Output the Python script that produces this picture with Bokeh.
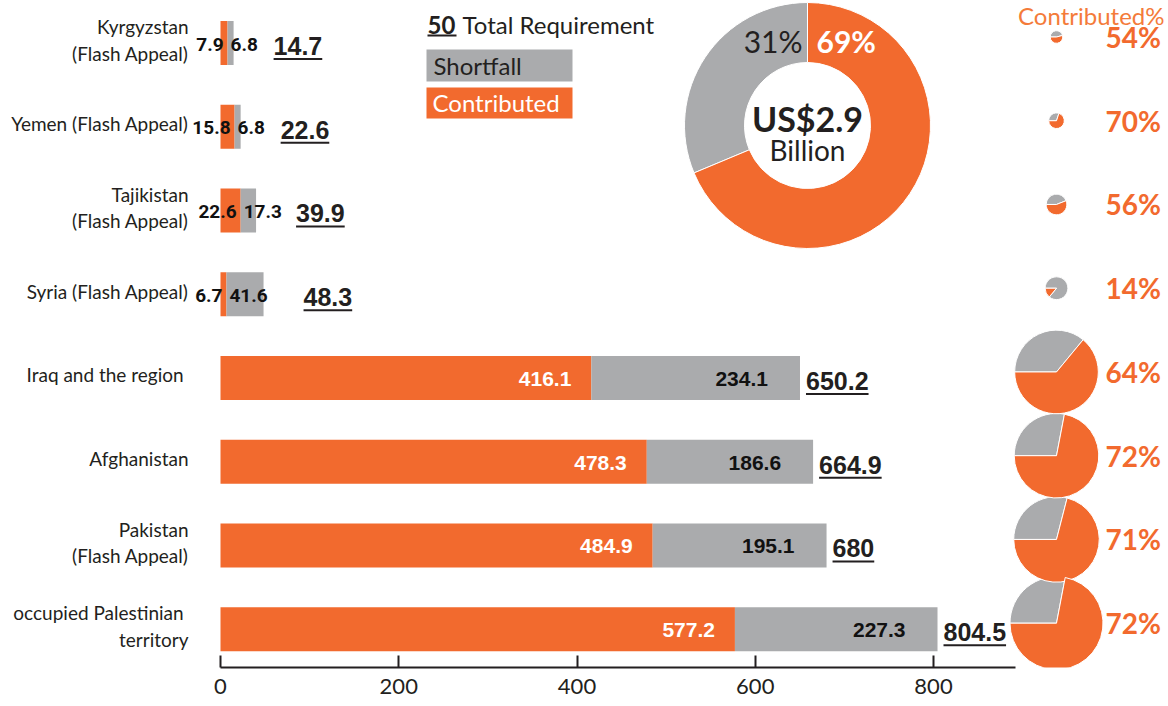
import math
from bokeh.plotting import figure
from bokeh.models import Range1d, FixedTicker
from bokeh.core.properties import value
from bokeh.embed import file_html
from bokeh.resources import INLINE

# ---------------- data ----------------
categories = [
    "Kyrgyzstan\n(Flash Appeal)",
    "Yemen (Flash Appeal)",
    "Tajikistan\n(Flash Appeal)",
    "Syria (Flash Appeal)",
    "Iraq  and the region",
    "Afghanistan",
    "Pakistan\n(Flash Appeal)",
    "occupied  Palestinian\nterritory",
]
contributed = [7.9, 15.8, 22.6, 6.7, 416.1, 478.3, 484.9, 577.2]
shortfall = [6.8, 6.8, 17.3, 41.6, 234.1, 186.6, 195.1, 227.3]
total_labels = ["14.7", "22.6", "39.9", "48.3", "650.2", "664.9", "680", "804.5"]
contributed_pct = [54, 70, 56, 14, 64, 72, 71, 72]
x_ticks = [0, 200, 400, 600, 800]
legend_example = "50"

# ---------------- style / layout ----------------
ORANGE = "#f26a2e"
GRAY = "#aaabad"
DARK = "#231f20"
HEAD_ORANGE = "#f47b3a"
W, H = 1168, 706
BOTTOM = 39
X0_PX = 220.0          # page x of value 0
PPU = 0.89125          # pixels per unit
ROW0_PX = 42.5         # page y of first row centre
ROW_PX = 83.74         # row spacing in px


def dx(px):
    return (px - X0_PX) / PPU


def dy(py):
    return (py - ROW0_PX) / ROW_PX


totals = [c + s for c, s in zip(contributed, shortfall)]
ys = list(range(len(categories)))
big = [t > 100 for t in totals]

p = figure(width=W, height=H,
           x_range=Range1d(dx(0), dx(W)),
           y_range=Range1d(dy(H - BOTTOM), dy(0)),
           output_backend="svg", toolbar_location=None,
           y_axis_location=None,
           min_border_left=0, min_border_right=0,
           min_border_top=0, min_border_bottom=BOTTOM)
p.grid.visible = False
p.outline_line_color = None
p.background_fill_color = "white"

ax = p.xaxis[0]
ax.ticker = FixedTicker(ticks=x_ticks)
ax.bounds = (0, dx(1015))
ax.axis_line_width = 2
ax.axis_line_color = DARK
ax.major_tick_in = 12
ax.major_tick_out = 0
ax.major_tick_line_width = 2
ax.major_tick_line_color = DARK
ax.minor_tick_line_color = None
ax.major_label_text_font = "Lato"
ax.major_label_text_font_size = "22px"
ax.major_label_text_color = DARK
ax.major_label_standoff = 11

# ---------------- bars ----------------
BAR_H = 44 / ROW_PX
p.hbar(y=ys, left=0, right=contributed, height=BAR_H,
       fill_color=ORANGE, line_color=None)
p.hbar(y=ys, left=contributed, right=totals, height=BAR_H,
       fill_color=GRAY, line_color=None)

# category labels
p.text(x=0, y=ys, text=categories, x_offset=-32, y_offset=-3,
       text_align="right", text_baseline="middle",
       text_font=value("Lato"), text_font_size="19px",
       text_color=DARK, text_line_height=1.15)

# value labels inside bars
by = [y for y, b in zip(ys, big) if b]
sy_ = [y for y, b in zip(ys, big) if not b]
p.text(x=[c for c, b in zip(contributed, big) if b], y=by,
       text=[f"{c:.1f}" for c, b in zip(contributed, big) if b],
       x_offset=-20, y_offset=1, text_align="right", text_baseline="middle",
       text_font=value("Liberation Sans"), text_font_style="bold",
       text_font_size="21px", text_color="white")
p.text(x=[t for t, b in zip(totals, big) if b], y=by,
       text=[f"{s:.1f}" for s, b in zip(shortfall, big) if b],
       x_offset=-32, y_offset=1, text_align="right", text_baseline="middle",
       text_font=value("Liberation Sans"), text_font_style="bold",
       text_font_size="21px", text_color="#111111")
p.text(x=[c for c, b in zip(contributed, big) if not b], y=sy_,
       text=[f"{c:.1f}" for c, b in zip(contributed, big) if not b],
       x_offset=-4, y_offset=1, text_align="right", text_baseline="middle",
       text_font=value("Roboto"), text_font_style="bold",
       text_font_size="19px", text_color="#111111")
p.text(x=[c for c, b in zip(contributed, big) if not b], y=sy_,
       text=[f"{s:.1f}" for s, b in zip(shortfall, big) if not b],
       x_offset=3, y_offset=1, text_align="left", text_baseline="middle",
       text_font=value("Roboto"), text_font_style="bold",
       text_font_size="19px", text_color="#111111")

# total labels (underlined)
TOT_FS = 25
def text_w(s):
    return sum((0.278 if ch == "." else 0.556) * TOT_FS for ch in s)

tot_off = [6 if b else 40 for b in big]
p.text(x=totals, y=ys, text=total_labels, x_offset=tot_off, y_offset=3,
       text_align="left", text_baseline="middle",
       text_font=value("Liberation Sans"), text_font_style="bold",
       text_font_size=f"{TOT_FS}px", text_color=DARK)
ux0 = [t + o / PPU for t, o in zip(totals, tot_off)]
ux1 = [x + text_w(s) / PPU for x, s in zip(ux0, total_labels)]
uy = [y + 16 / ROW_PX for y in ys]
p.segment(x0=ux0, x1=ux1, y0=uy, y1=uy, line_color=DARK, line_width=2)

# ---------------- pies ----------------
pie_x = dx(1056)
pie_y = [y - 6 / ROW_PX for y in ys]
pie_r = [1.64 * math.sqrt(t) for t in totals]
start = [math.pi] * len(ys)
mid = [math.pi + 2 * math.pi * q / 100 for q in contributed_pct]
end = [3 * math.pi] * len(ys)
p.wedge(x=pie_x, y=pie_y, radius=pie_r, radius_units="screen",
        start_angle=mid, end_angle=end, fill_color=GRAY,
        line_color="white", line_width=1)
p.wedge(x=pie_x, y=pie_y, radius=pie_r, radius_units="screen",
        start_angle=start, end_angle=mid, fill_color=ORANGE,
        line_color="white", line_width=1)
p.text(x=dx(1105), y=pie_y, text=[f"{q}%" for q in contributed_pct],
       text_align="left", text_baseline="middle",
       text_font=value("Lato"), text_font_style="bold",
       text_font_size="28px", text_color=ORANGE)
p.text(x=[dx(1164)], y=[dy(15)], text=["Contributed%"],
       text_align="right", text_baseline="middle",
       text_font=value("Lato"), text_font_size="24px", text_color=HEAD_ORANGE)

# ---------------- donut ----------------
sum_c = sum(contributed)
sum_t = sum(totals)
c_share = sum_c / sum_t
g_share = 1 - c_share
dcx, dcy = dx(807), dy(125)
g_end = math.pi / 2 + 2 * math.pi * g_share
p.annular_wedge(x=[dcx], y=[dcy], inner_radius=63, outer_radius=123,
                inner_radius_units="screen", outer_radius_units="screen",
                start_angle=[math.pi / 2], end_angle=[g_end],
                fill_color=GRAY, line_color="white", line_width=1)
p.annular_wedge(x=[dcx], y=[dcy], inner_radius=63, outer_radius=123,
                inner_radius_units="screen", outer_radius_units="screen",
                start_angle=[g_end], end_angle=[math.pi / 2 + 2 * math.pi],
                fill_color=ORANGE, line_color="white", line_width=1)
p.text(x=[dcx], y=[dy(40)], text=[f"{round(g_share * 100)}%"], x_offset=-5,
       text_align="right", text_baseline="middle",
       text_font=value("Lato"), text_font_size="30px", text_color=DARK)
p.text(x=[dcx], y=[dy(40)], text=[f"{round(c_share * 100)}%"], x_offset=9,
       text_align="left", text_baseline="middle",
       text_font=value("Lato"), text_font_style="bold",
       text_font_size="30px", text_color="white")
p.text(x=[dcx], y=[dy(118)], text=[f"US${sum_t / 1000:.1f}"],
       text_align="center", text_baseline="middle",
       text_font=value("Lato"), text_font_style="bold",
       text_font_size="34px", text_color=DARK)
p.text(x=[dcx], y=[dy(149)], text=["Billion"],
       text_align="center", text_baseline="middle",
       text_font=value("Lato"), text_font_size="28px", text_color=DARK)

# ---------------- legend ----------------
p.text(x=[dx(427)], y=[dy(24)], text=[legend_example],
       text_align="left", text_baseline="middle",
       text_font=value("Lato"), text_font_style="bold",
       text_font_size="24px", text_color=DARK)
p.segment(x0=[dx(427)], x1=[dx(456)], y0=[dy(35)], y1=[dy(35)],
          line_color=DARK, line_width=2)
p.text(x=[dx(462)], y=[dy(24)], text=["Total Requirement"],
       text_align="left", text_baseline="middle",
       text_font=value("Lato"), text_font_size="24px", text_color=DARK)
p.quad(left=[dx(426)], right=[dx(572)], top=[dy(49)], bottom=[dy(81)],
       fill_color=GRAY, line_color=None)
p.quad(left=[dx(426)], right=[dx(572)], top=[dy(87)], bottom=[dy(118)],
       fill_color=ORANGE, line_color=None)
p.text(x=[dx(433)], y=[dy(65)], text=["Shortfall"],
       text_align="left", text_baseline="middle",
       text_font=value("Lato"), text_font_size="24px", text_color=DARK)
p.text(x=[dx(432)], y=[dy(102)], text=["Contributed"],
       text_align="left", text_baseline="middle",
       text_font=value("Lato"), text_font_size="24px", text_color="white")

open("out.html", "w").write(file_html(p, INLINE))
